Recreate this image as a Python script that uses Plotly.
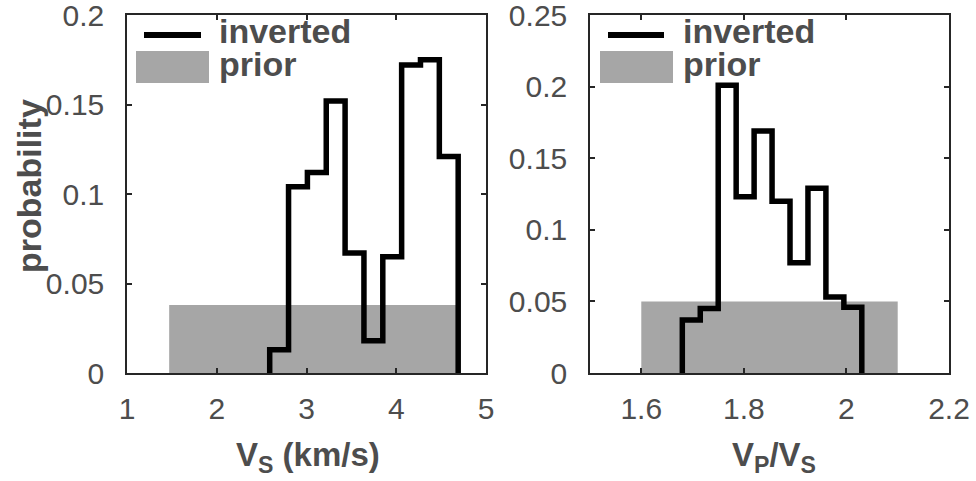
import plotly.graph_objects as go

W, H = 976, 481

# ---- data -------------------------------------------------------------
# Vs posterior histogram (km/s)
vs_edges = [2.59, 2.80, 3.01, 3.22, 3.43, 3.64, 3.85, 4.06, 4.27, 4.48, 4.69]
vs_prob = [0.013, 0.104, 0.112, 0.152, 0.067, 0.018, 0.065, 0.172, 0.175, 0.121]
vs_prior_range = [1.47, 4.70]
vs_prior_prob = 0.038

# Vp/Vs posterior histogram
vpvs_edges = [1.680, 1.715, 1.750, 1.785, 1.820, 1.855, 1.890, 1.925, 1.960, 1.995, 2.030]
vpvs_prob = [0.037, 0.045, 0.201, 0.123, 0.169, 0.120, 0.077, 0.129, 0.053, 0.046]
vpvs_prior_range = [1.60, 2.10]
vpvs_prior_prob = 0.050

vs_ticks = [1, 2, 3, 4, 5]
vs_tick_labels = ["1", "2", "3", "4", "5"]
vpvs_ticks = [1.6, 1.8, 2.0, 2.2]
vpvs_tick_labels = ["1.6", "1.8", "2", "2.2"]
prob_ticks_vs = [0, 0.05, 0.1, 0.15, 0.2]
prob_labels_vs = ["0", "0.05", "0.1", "0.15", "0.2"]
prob_ticks_vpvs = [0, 0.05, 0.1, 0.15, 0.2, 0.25]
prob_labels_vpvs = ["0", "0.05", "0.1", "0.15", "0.2", "0.25"]

# ---- style ------------------------------------------------------------
FONT = "Liberation Sans, Arial, Helvetica, sans-serif"
TXT = "#4d4d4d"
AX = "#262626"
PRIOR_FILL = "rgba(77,77,77,0.5)"


def px_x(p):
    return p / W


def px_y(p):
    return 1 - p / H


def stairs(edges, vals):
    xs = [edges[0]] + list(edges[:-1]) + [edges[-1]]
    ys = [0] + list(vals) + [0]
    return xs, ys


fig = go.Figure()

for edges, vals, prange, pprob, xa, ya in [
    (vs_edges, vs_prob, vs_prior_range, vs_prior_prob, "x", "y"),
    (vpvs_edges, vpvs_prob, vpvs_prior_range, vpvs_prior_prob, "x2", "y2"),
]:
    sx, sy = stairs(edges, vals)
    fig.add_trace(go.Scatter(
        x=sx, y=sy, mode="lines", line=dict(color="black", width=5.5, shape="hv"),
        xaxis=xa, yaxis=ya, showlegend=False, hoverinfo="skip"))
    fig.add_trace(go.Bar(
        x=[(prange[0] + prange[1]) / 2], y=[pprob], width=[prange[1] - prange[0]],
        marker=dict(color=PRIOR_FILL, line=dict(width=0)),
        xaxis=xa, yaxis=ya, showlegend=False, hoverinfo="skip"))

axis_common = dict(
    showgrid=False, zeroline=False, showline=True, linecolor=AX, linewidth=1.5,
    mirror="ticks", ticks="inside", ticklen=5, tickwidth=1.5, tickcolor=AX,
    tickfont=dict(family=FONT, size=30, color=TXT),
    automargin=False, ticklabeloverflow="allow",
)

fig.update_layout(
    template="none",
    width=W, height=H,
    margin=dict(l=0, r=0, t=0, b=0, pad=0),
    paper_bgcolor="white", plot_bgcolor="white",
    barmode="overlay",
    xaxis=dict(domain=[px_x(127), px_x(486)], range=[1, 5], tickvals=vs_ticks,
               ticktext=vs_tick_labels, anchor="y", ticklabelstandoff=8, **axis_common),
    yaxis=dict(domain=[px_y(373), px_y(15)], range=[0, 0.2], tickvals=prob_ticks_vs,
               ticktext=prob_labels_vs, anchor="x", ticklabelstandoff=15, **axis_common),
    xaxis2=dict(domain=[px_x(590), px_x(949)], range=[1.5, 2.2], tickvals=vpvs_ticks,
                ticktext=vpvs_tick_labels, anchor="y2", ticklabelstandoff=8, **axis_common),
    yaxis2=dict(domain=[px_y(373), px_y(15)], range=[0, 0.25], tickvals=prob_ticks_vpvs,
                ticktext=prob_labels_vpvs, anchor="x2", ticklabelstandoff=15, **axis_common),
)

title_font = dict(family=FONT, size=33, color=TXT, weight="bold")
legend_font = dict(family=FONT, size=34, color=TXT, weight="bold")

annotations = [
    dict(text="probability", x=px_x(29), y=px_y(186), textangle=-90,
         xanchor="center", yanchor="middle", font=dict(title_font, size=34)),
    dict(text="V<sub>S</sub> (km/s)", x=px_x(308), y=px_y(457),
         xanchor="center", yanchor="middle", font=title_font),
    dict(text="V<sub>P</sub>/V<sub>S</sub>", x=px_x(774), y=px_y(457),
         xanchor="center", yanchor="middle", font=title_font),
]

shapes = []
# legend boxes for each panel: line swatch, prior swatch and labels
for line_x0, line_x1, box_x0, box_x1, text_x in [
    (144, 201, 136, 209, 217),
    (608, 664, 600, 673, 681),
]:
    shapes.append(dict(type="line", xref="paper", yref="paper",
                       x0=px_x(line_x0), x1=px_x(line_x1), y0=px_y(35), y1=px_y(35),
                       line=dict(color="black", width=6)))
    shapes.append(dict(type="rect", xref="paper", yref="paper",
                       x0=px_x(box_x0), x1=px_x(box_x1), y0=px_y(83), y1=px_y(51),
                       fillcolor="#a6a6a6", line=dict(width=0)))
    annotations.append(dict(text="inverted", x=px_x(text_x), y=px_y(31),
                            xanchor="left", yanchor="middle", font=legend_font))
    annotations.append(dict(text="prior", x=px_x(text_x), y=px_y(64),
                            xanchor="left", yanchor="middle", font=legend_font))

for a in annotations:
    a.update(xref="paper", yref="paper", showarrow=False)

fig.update_layout(annotations=annotations, shapes=shapes)

fig.write_html("out.html")
